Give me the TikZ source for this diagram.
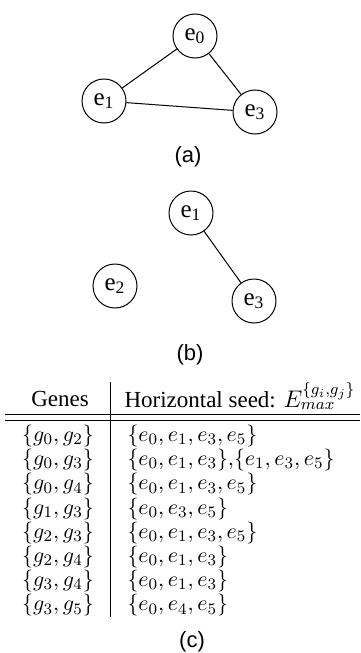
\documentclass[tikz,border=0pt]{standalone}
\usepackage[no-math]{fontspec}
\setmainfont{Liberation Serif}
\newfontfamily\capfont{Liberation Sans}
\begin{document}
\begin{tikzpicture}[x=0.5pt, y=-0.5pt, line width=0.5pt,
	vertex/.style={draw, circle, minimum size=22pt, inner sep=0pt, font=\fontsize{12.5}{14}\selectfont},
	caption/.style={font=\capfont\fontsize{11}{13}\selectfont},
	head/.style={font=\fontsize{11.5}{13}\selectfont, inner sep=0pt},
	cell/.style={font=\fontsize{11}{13}\selectfont, inner sep=0pt, text height=7pt, text depth=2.5pt}]
	\useasboundingbox (0,0) rectangle (360,653);

%graph (a)
	\foreach \xy/\name/\lab in {{(195,36)/a0/0},{(104,101)/a1/1},{(255,112)/a3/3}} {
		\node[vertex] (\name) at \xy {e\textsubscript{\lab}};
	}
	\draw (a0) -- (a1);
	\draw (a0) -- (a3);
	\draw (a1) -- (a3);
	\node[caption] (capa) at (188,157) {(a)};

%graph (b)
	\foreach \xy/\name/\lab in {{(191,213)/b1/1},{(115,286)/b2/2},{(254,301)/b3/3}} {
		\node[vertex] (\name) at \xy {e\textsubscript{\lab}};
	}
	\draw (b1) -- (b3);
	\node[caption] (capb) at (190,355) {(b)};

%table
	\node[head] (genes) at (60,399) {Genes};
	\node[head, anchor=west] (seed) at (124,396) {Horizontal seed: $E_{max}^{\{g_i,g_j\}}$};
	\coordinate (vtop) at (110,382);
	\coordinate (vbot) at (110,617);
	\coordinate (ruleL) at (5,414);
	\coordinate (ruleR) at (360,414);
	\draw (vtop) -- (vbot);
	\draw (ruleL) -- (ruleR);
	\draw ([yshift=-3pt]ruleL) -- ([yshift=-3pt]ruleR);

	\foreach \g/\s [count=\i] in {
		{\{g_0,g_2\}}/{\{e_0,e_1,e_3,e_5\}},
		{\{g_0,g_3\}}/{\{e_0,e_1,e_3\}{,}\{e_1,e_3,e_5\}},
		{\{g_0,g_4\}}/{\{e_0,e_1,e_3,e_5\}},
		{\{g_1,g_3\}}/{\{e_0,e_3,e_5\}},
		{\{g_2,g_3\}}/{\{e_0,e_1,e_3,e_5\}},
		{\{g_2,g_4\}}/{\{e_0,e_1,e_3\}},
		{\{g_3,g_4\}}/{\{e_0,e_1,e_3\}},
		{\{g_3,g_5\}}/{\{e_0,e_4,e_5\}}} {
		\node[cell] (gene\i) at (58,{437+24.2*(\i-1)}) {$\g$};
		\node[cell, anchor=west] (seed\i) at (127,{437+24.2*(\i-1)}) {$\s$};
	}
	\node[caption] (capc) at (192,642) {(c)};

\end{tikzpicture}
\end{document}
